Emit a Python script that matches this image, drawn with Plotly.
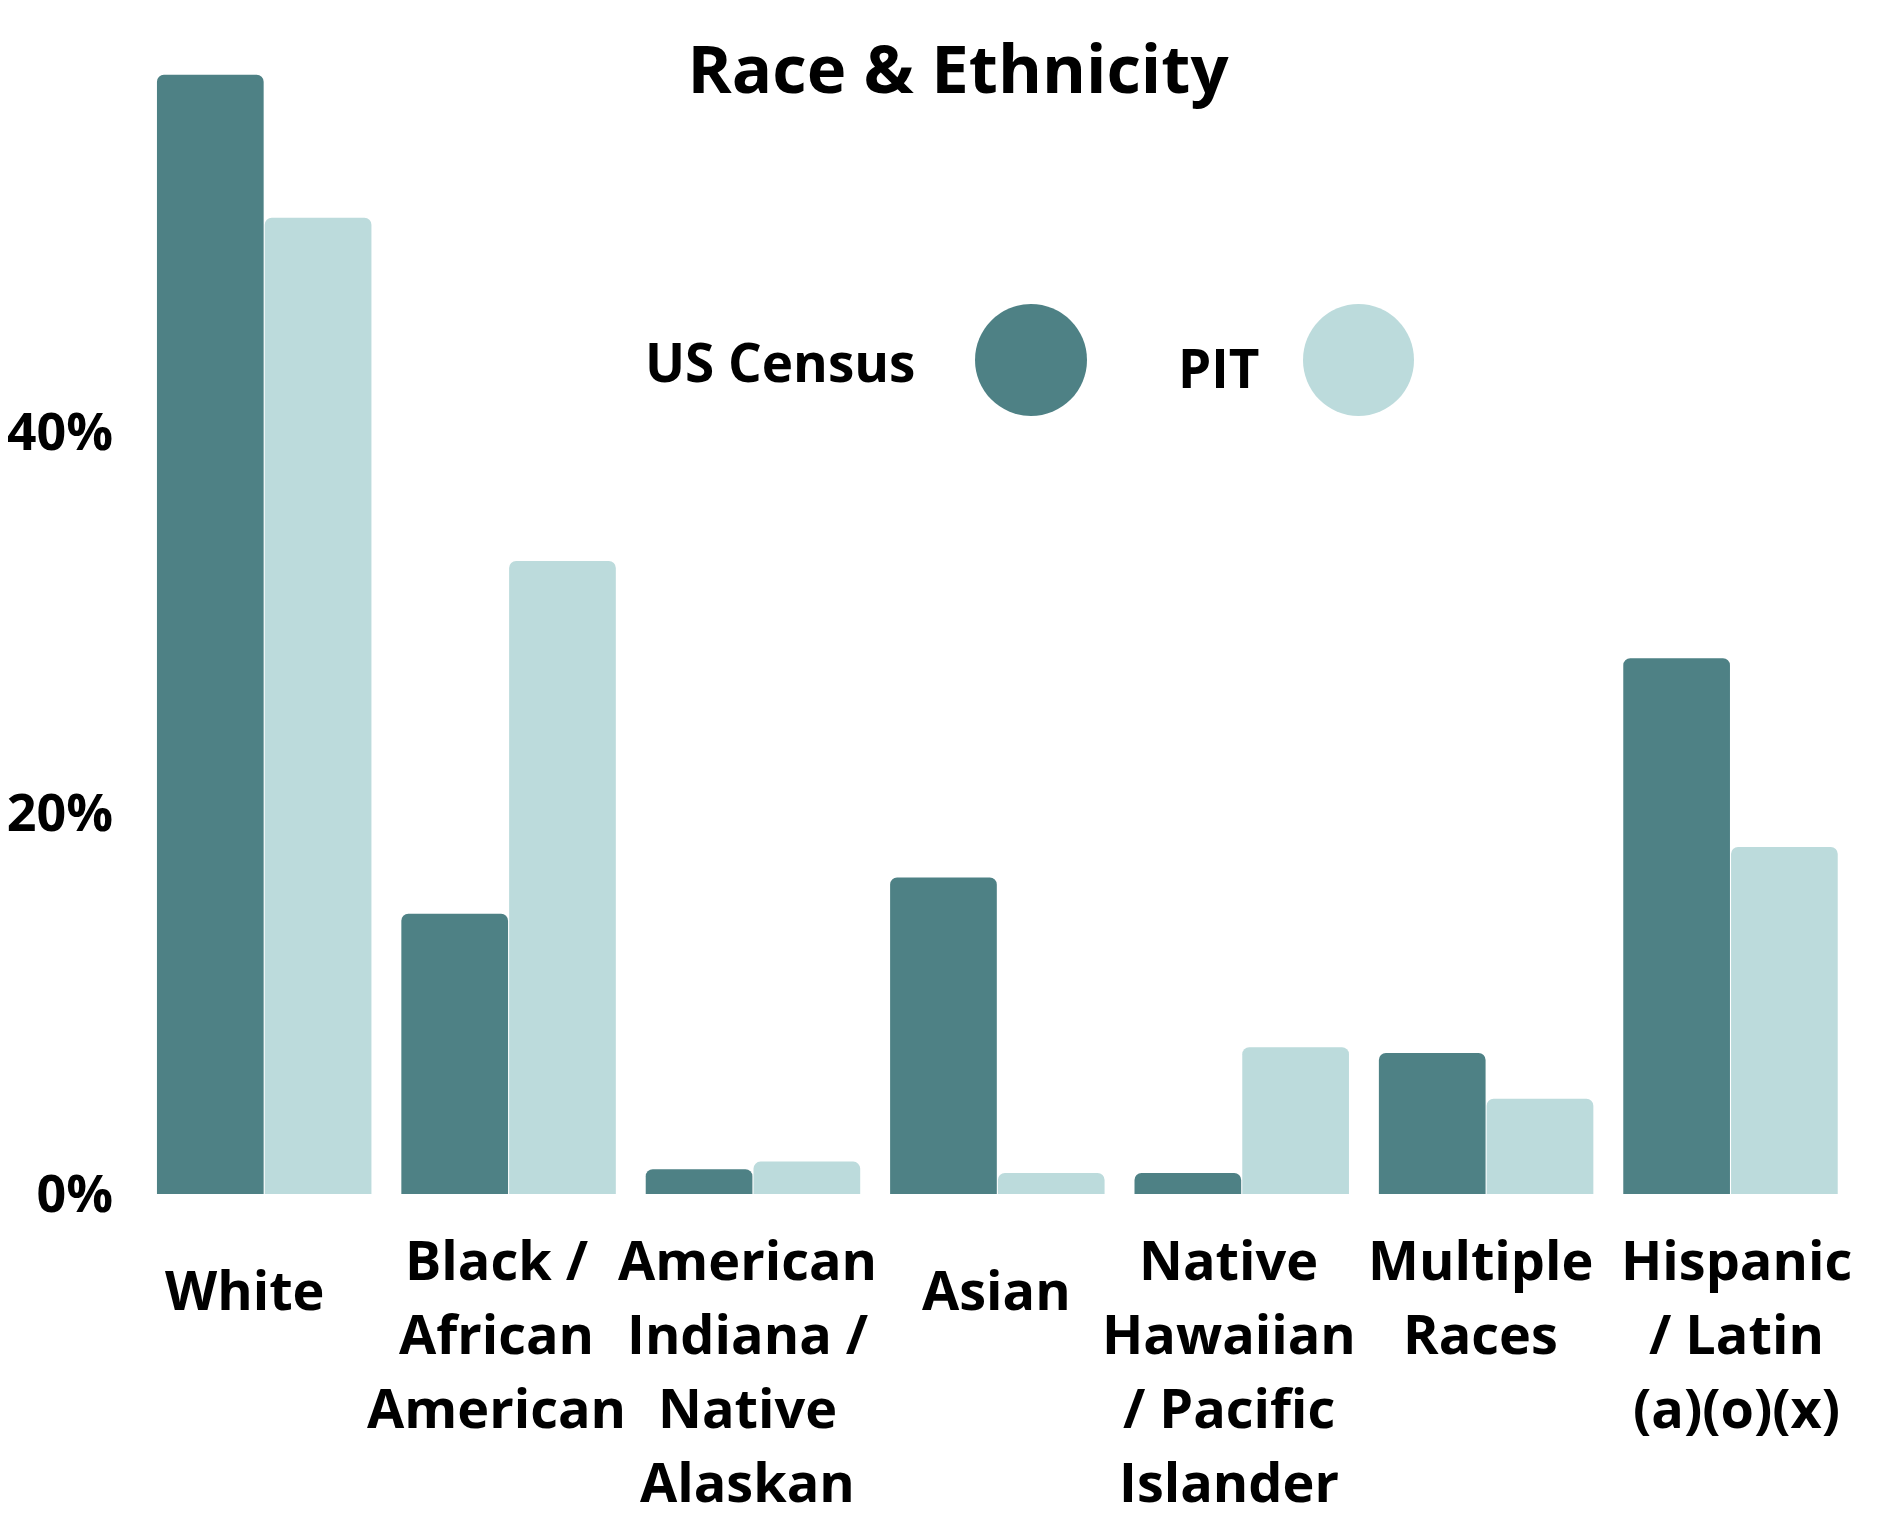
import plotly.graph_objects as go

categories = [
    "White",
    "Black / African American",
    "American Indiana / Native Alaskan",
    "Asian",
    "Native Hawaiian / Pacific Islander",
    "Multiple Races",
    "Hispanic / Latin (a)(o)(x)",
]
label_lines = [
    ["White"],
    ["Black /", "African", "American"],
    ["American", "Indiana /", "Native", "Alaskan"],
    ["Asian"],
    ["Native", "Hawaiian", "/ Pacific", "Islander"],
    ["Multiple", "Races"],
    ["Hispanic", "/ Latin", "(a)(o)(x)"],
]
us_census = [58.7, 14.7, 1.3, 16.6, 1.1, 7.4, 28.1]
pit = [51.2, 33.2, 1.7, 1.1, 7.7, 5.0, 18.2]
y_ticks = [0, 20, 40]
y_tick_labels = ["0%", "20%", "40%"]

CENSUS_COLOR = "#4e8185"
PIT_COLOR = "#bcdbdc"
FONT = "Open Sans, Noto Sans, sans-serif"
W, H = 1885, 1520
ML, MR, MT, MB = 134, 39, 42, 334
# the labels in the original are not exactly centred under their groups
LABEL_XSHIFT = [-19, -12, -5, -1, -13, -6, 6]


def px_x(x):
    # pixel -> paper (plot-area) coordinate
    return (x - ML) / (W - ML - MR)


def px_y(y):
    return (H - MB - y) / (H - MT - MB)


fig = go.Figure()
fig.add_trace(
    go.Bar(
        x=categories,
        y=us_census,
        name="US Census",
        marker=dict(color=CENSUS_COLOR, cornerradius=7, line=dict(width=0)),
        hovertemplate="%{x}: %{y:.1f}%<extra>US Census</extra>",
    )
)
fig.add_trace(
    go.Bar(
        x=categories,
        y=pit,
        name="PIT",
        marker=dict(color=PIT_COLOR, cornerradius=7, line=dict(width=0)),
        hovertemplate="%{x}: %{y:.1f}%<extra>PIT</extra>",
    )
)

# category labels, one annotation per line so the line spacing can match
label_font = dict(family=FONT, size=54, color="#000000", weight="bold")
annotations = []
for cat, lines, dx in zip(categories, label_lines, LABEL_XSHIFT):
    for i, line in enumerate(lines):
        annotations.append(
            dict(
                x=cat,
                xref="x",
                y=0,
                yref="paper",
                yanchor="middle",
                xshift=dx,
                yshift=-(65 + 74 * i) if len(lines) > 1 else -95,
                text=line,
                showarrow=False,
                font=label_font,
            )
        )

# custom legend with big circles
legend_font = dict(family=FONT, size=53, color="#000000", weight="bold")
annotations.append(
    dict(text="US Census", x=px_x(909), y=px_y(353), xref="paper", yref="paper",
         xanchor="right", yanchor="middle", showarrow=False, font=legend_font)
)
annotations.append(
    dict(text="PIT", x=px_x(1168), y=px_y(359), xref="paper", yref="paper",
         xanchor="left", yanchor="middle", showarrow=False, font=legend_font)
)
shapes = [
    dict(type="circle", xref="paper", yref="paper", x0=px_x(967), x1=px_x(1079),
         y0=px_y(408), y1=px_y(296), fillcolor=CENSUS_COLOR, line=dict(width=0)),
    dict(type="circle", xref="paper", yref="paper", x0=px_x(1295), x1=px_x(1406),
         y0=px_y(408), y1=px_y(296), fillcolor=PIT_COLOR, line=dict(width=0)),
]

fig.update_layout(
    width=W,
    height=H,
    title=dict(
        text="Race & Ethnicity",
        x=950 / W,
        xanchor="center",
        y=1 - 62 / H,
        yanchor="middle",
        font=dict(family=FONT, size=67, color="#000000", weight="bold"),
    ),
    paper_bgcolor="white",
    plot_bgcolor="white",
    font=dict(family=FONT, color="#000000"),
    barmode="group",
    bargap=0.118,
    bargroupgap=0.01,
    showlegend=False,
    margin=dict(l=ML, r=MR, t=MT, b=MB, autoexpand=False),
    annotations=annotations,
    shapes=shapes,
)
fig.update_xaxes(showticklabels=False, showgrid=False, zeroline=False, showline=False, ticks="")
fig.update_yaxes(
    range=[0, 60],
    tickmode="array",
    tickvals=y_ticks,
    ticktext=y_tick_labels,
    tickfont=dict(family=FONT, size=52, color="#000000", weight="bold"),
    ticklabelstandoff=28,
    showgrid=False,
    zeroline=False,
    showline=False,
    ticks="",
)

fig.write_html("out.html")
